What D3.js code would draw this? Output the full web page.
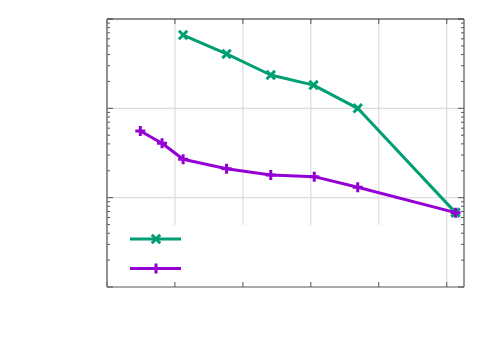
<!DOCTYPE html>
<html>
<head>
<meta charset="utf-8">
<script src="https://cdn.jsdelivr.net/npm/d3@7"></script>
<style>
  html, body { margin: 0; padding: 0; background: #fff; }
  svg { display: block; }
</style>
</head>
<body>
<svg id="chart" width="500" height="350"></svg>
<script>
// series (x in tick units, y on a log axis)
const greenX = [1.12, 1.76, 2.41, 3.04, 3.69, 5.13];
const greenY = [0.662, 0.406, 0.236, 0.182, 0.100, 0.0068];
const purpleX = [0.49, 0.81, 1.12, 1.76, 2.41, 3.05, 3.69, 5.13];
const purpleY = [0.0557, 0.0406, 0.0269, 0.0211, 0.0179, 0.0172, 0.0131, 0.0068];
const xTicks = [0, 1, 2, 3, 4, 5];
const xDomain = [0, 5.254];
const yDomain = [0.001, 1];

const svg = d3.select("#chart");
const margin = { top: 19, right: 36, bottom: 63, left: 107 };
const width = +svg.attr("width");
const height = +svg.attr("height");
const innerWidth = width - margin.left - margin.right;
const innerHeight = height - margin.top - margin.bottom;

const g = svg.append("g").attr("transform", `translate(${margin.left},${margin.top})`);

const xScale = d3.scaleLinear().domain(xDomain).range([0, innerWidth]);
const yScale = d3.scaleLog().domain(yDomain).range([innerHeight, 0]);

const green = "#009e73";
const purple = "#9400d3";

const yAll = yScale.ticks();
const yMajor = yAll.filter(d => Math.abs(Math.log10(d) - Math.round(Math.log10(d))) < 1e-9);

// grid
g.append("g").selectAll("line")
  .data(xTicks.filter(d => d > 0))
  .join("line")
  .attr("x1", d => xScale(d)).attr("x2", d => xScale(d))
  .attr("y1", 0).attr("y2", innerHeight)
  .attr("stroke", "#d6d6d6").attr("stroke-width", 1);

g.append("g").selectAll("line")
  .data(yMajor.filter(d => d > yDomain[0] && d < yDomain[1]))
  .join("line")
  .attr("x1", 0).attr("x2", innerWidth)
  .attr("y1", d => yScale(d)).attr("y2", d => yScale(d))
  .attr("stroke", "#dcdcdc").attr("stroke-width", 1.2);

// key background (opaque)
g.append("rect")
  .attr("x", 0).attr("y", 206)
  .attr("width", 310).attr("height", innerHeight - 206)
  .attr("fill", "#fff");

// ticks, inward, on all four sides
const tickColor = "#555";
["bottom", "top"].forEach(side => {
  g.append("g").selectAll("line")
    .data(xTicks)
    .join("line")
    .attr("x1", d => xScale(d)).attr("x2", d => xScale(d))
    .attr("y1", side === "bottom" ? innerHeight : 0)
    .attr("y2", side === "bottom" ? innerHeight - 5 : 5)
    .attr("stroke", tickColor).attr("stroke-width", 1);
});
["left", "right"].forEach(side => {
  g.append("g").selectAll("line")
    .data(yAll)
    .join("line")
    .attr("y1", d => yScale(d)).attr("y2", d => yScale(d))
    .attr("x1", side === "left" ? 0 : innerWidth)
    .attr("x2", d => {
      const len = yMajor.includes(d) ? 6 : 3;
      return side === "left" ? len : innerWidth - len;
    })
    .attr("stroke", tickColor).attr("stroke-width", 1);
});

// border
g.append("line").attr("x1", 0).attr("x2", innerWidth).attr("y1", 0).attr("y2", 0)
  .attr("stroke", "#222").attr("stroke-width", 1.2);
g.append("line").attr("x1", 0).attr("x2", innerWidth).attr("y1", innerHeight).attr("y2", innerHeight)
  .attr("stroke", "#555").attr("stroke-width", 1.2);
g.append("line").attr("x1", 0).attr("x2", 0).attr("y1", 0).attr("y2", innerHeight)
  .attr("stroke", "#777").attr("stroke-width", 1.6);
g.append("line").attr("x1", innerWidth).attr("x2", innerWidth).attr("y1", 0).attr("y2", innerHeight)
  .attr("stroke", "#555").attr("stroke-width", 1.2);

// marker shapes
function markerPath(type, x, y) {
  const s = 4.2;
  if (type === "x") {
    return `M${x - s},${y - s}L${x + s},${y + s}M${x - s},${y + s}L${x + s},${y - s}`;
  }
  const p = 5;
  return `M${x - p},${y}L${x + p},${y}M${x},${y - p}L${x},${y + p}`;
}

const series = [
  { name: "", xs: greenX, ys: greenY, color: green, marker: "x" },
  { name: "", xs: purpleX, ys: purpleY, color: purple, marker: "+" }
];

const line = d3.line().x(d => xScale(d[0])).y(d => yScale(d[1]));

series.forEach(s => {
  const pts = s.xs.map((x, i) => [x, s.ys[i]]);
  g.append("path")
    .datum(pts)
    .attr("d", line)
    .attr("fill", "none")
    .attr("stroke", s.color)
    .attr("stroke-width", 3)
    .attr("stroke-linejoin", "round");
  g.append("g").selectAll("path")
    .data(pts)
    .join("path")
    .attr("d", d => markerPath(s.marker, xScale(d[0]), yScale(d[1])))
    .attr("fill", "none")
    .attr("stroke", s.color)
    .attr("stroke-width", 3);
});

// key
const key = g.append("g").attr("transform", "translate(23,220)");
series.forEach((s, i) => {
  const y = i * 29.5;
  key.append("line")
    .attr("x1", 0).attr("x2", 51).attr("y1", y).attr("y2", y)
    .attr("stroke", s.color).attr("stroke-width", 3);
  key.append("path")
    .attr("d", markerPath(s.marker, 26, y))
    .attr("fill", "none").attr("stroke", s.color).attr("stroke-width", 3);
  key.append("text")
    .attr("x", 60).attr("y", y + 4)
    .attr("font-family", "DejaVu Sans").attr("font-size", 12)
    .text(s.name);
});
</script>
</body>
</html>
